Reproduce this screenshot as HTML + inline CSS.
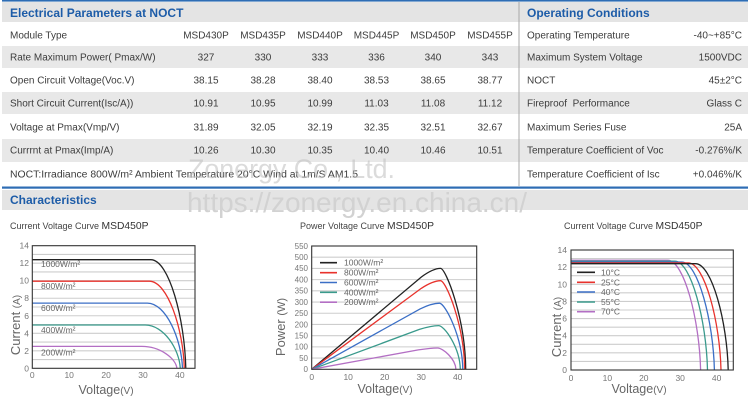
<!DOCTYPE html>
<html><head><meta charset="utf-8">
<style>
html,body{margin:0;padding:0;background:#fff;}
svg{display:block;font-family:"Liberation Sans",Arial,sans-serif;}
.t{font-size:10px;fill:#3c3c3c;}
.c{text-anchor:middle;}
.r{text-anchor:end;}
.h{font-size:12px;font-weight:bold;fill:#1d5ca8;}
.tk{font-size:8.5px;fill:#777;}
.tk2{font-size:8px;fill:#777;}
.lg{font-size:8.5px;fill:#666;}
.g{stroke:#cdcdcd;stroke-width:1.1;}
.cv{fill:none;stroke-width:1.3;}
</style></head><body>
<svg width="750" height="414" viewBox="0 0 750 414" xmlns="http://www.w3.org/2000/svg">
<!-- top table -->
<rect x="2" y="0" width="746" height="1.6" fill="#2e6db4"/>
<rect x="2" y="2" width="746" height="20" fill="#e4e4e4"/>
<rect x="2" y="46" width="746" height="22" fill="#e8e8e8"/>
<rect x="2" y="92" width="746" height="22" fill="#e8e8e8"/>
<rect x="2" y="139" width="746" height="23" fill="#e8e8e8"/>
<rect x="2" y="186.5" width="746" height="2.2" fill="#2e6db4"/>
<line x1="519" y1="2" x2="519" y2="186" stroke="#a8a8a8" stroke-width="1"/>

<text x="10" y="17" class="h">Electrical Parameters at NOCT</text>
<text x="527" y="17" class="h">Operating Conditions</text>

<g class="t">
<text x="10" y="38.5">Module Type</text>
<text x="10" y="60.5">Rate Maximum Power( Pmax/W)</text>
<text x="10" y="83.5">Open Circuit Voltage(Voc.V)</text>
<text x="10" y="106.5">Short Circuit Current(Isc/A))</text>
<text x="10" y="130.5">Voltage at Pmax(Vmp/V)</text>
<text x="10" y="153.5">Currrnt at Pmax(Imp/A)</text>
<text x="10" y="177.5" textLength="348" lengthAdjust="spacingAndGlyphs">NOCT:Irradiance 800W/m² Ambient Temperature 20°C Wind at 1m/S AM1.5</text>
</g>
<g class="t c">
<text x="206" y="38.5">MSD430P</text><text x="263" y="38.5">MSD435P</text><text x="320" y="38.5">MSD440P</text><text x="376.5" y="38.5">MSD445P</text><text x="433" y="38.5">MSD450P</text><text x="490" y="38.5">MSD455P</text>
<text x="206" y="60.5">327</text><text x="263" y="60.5">330</text><text x="320" y="60.5">333</text><text x="376.5" y="60.5">336</text><text x="433" y="60.5">340</text><text x="490" y="60.5">343</text>
<text x="206" y="83.5">38.15</text><text x="263" y="83.5">38.28</text><text x="320" y="83.5">38.40</text><text x="376.5" y="83.5">38.53</text><text x="433" y="83.5">38.65</text><text x="490" y="83.5">38.77</text>
<text x="206" y="106.5">10.91</text><text x="263" y="106.5">10.95</text><text x="320" y="106.5">10.99</text><text x="376.5" y="106.5">11.03</text><text x="433" y="106.5">11.08</text><text x="490" y="106.5">11.12</text>
<text x="206" y="130.5">31.89</text><text x="263" y="130.5">32.05</text><text x="320" y="130.5">32.19</text><text x="376.5" y="130.5">32.35</text><text x="433" y="130.5">32.51</text><text x="490" y="130.5">32.67</text>
<text x="206" y="153.5">10.26</text><text x="263" y="153.5">10.30</text><text x="320" y="153.5">10.35</text><text x="376.5" y="153.5">10.40</text><text x="433" y="153.5">10.46</text><text x="490" y="153.5">10.51</text>
</g>
<g class="t">
<text x="527" y="38.5">Operating Temperature</text>
<text x="527" y="60.5">Maximum System Voltage</text>
<text x="527" y="83.5">NOCT</text>
<text x="527" y="106.5">Fireproof &#160;Performance</text>
<text x="527" y="130.5">Maximum Series Fuse</text>
<text x="527" y="153.5">Temperature Coefficient of Voc</text>
<text x="527" y="177.5">Temperature Coefficient of Isc</text>
</g>
<g class="t r">
<text x="742" y="38.5">-40~+85°C</text>
<text x="742" y="60.5">1500VDC</text>
<text x="742" y="83.5">45±2°C</text>
<text x="742" y="106.5">Glass C</text>
<text x="742" y="130.5">25A</text>
<text x="742" y="153.5">-0.276%/K</text>
<text x="742" y="177.5">+0.046%/K</text>
</g>

<!-- watermark 1 -->
<text x="188" y="178" font-size="27" fill="#bdbdbd" fill-opacity="0.55" textLength="207" lengthAdjust="spacingAndGlyphs">Zonergy Co., Ltd.</text>

<!-- characteristics band -->
<rect x="2" y="190" width="746" height="20" fill="#e4e4e4"/>
<text x="10" y="204" class="h">Characteristics</text>
<text x="187" y="212" font-size="27.5" fill="#d2d2d2" textLength="340" lengthAdjust="spacingAndGlyphs">https://zonergy.en.china.cn/</text>

<!-- subtitles -->
<text x="10" y="229" font-size="9" fill="#444">Current Voltage Curve <tspan font-size="10.3" fill="#333">MSD450P</tspan></text>
<text x="300" y="229" font-size="9" fill="#444">Power Voltage Curve <tspan font-size="10.3" fill="#333">MSD450P</tspan></text>
<text x="564" y="229" font-size="9" fill="#444">Current Voltage Curve <tspan font-size="10.3" fill="#333">MSD450P</tspan></text>

<!-- ============ CHART 1 ============ -->
<g class="g">
<line x1="32.3" x2="195" y1="359.54" y2="359.54"/><line x1="32.3" x2="195" y1="350.79" y2="350.79"/>
<line x1="32.3" x2="195" y1="342.03" y2="342.03"/><line x1="32.3" x2="195" y1="333.27" y2="333.27"/>
<line x1="32.3" x2="195" y1="324.52" y2="324.52"/><line x1="32.3" x2="195" y1="315.76" y2="315.76"/>
<line x1="32.3" x2="195" y1="307.0" y2="307.0"/><line x1="32.3" x2="195" y1="298.24" y2="298.24"/>
<line x1="32.3" x2="195" y1="289.49" y2="289.49"/><line x1="32.3" x2="195" y1="280.73" y2="280.73"/>
<line x1="32.3" x2="195" y1="271.97" y2="271.97"/><line x1="32.3" x2="195" y1="263.22" y2="263.22"/>
<line x1="32.3" x2="195" y1="254.46" y2="254.46"/>
</g>
<g class="lg">
<text x="41" y="267">1000W/m²</text>
<text x="41" y="289">800W/m²</text>
<text x="41" y="311">600W/m²</text>
<text x="41" y="333">400W/m²</text>
<text x="41" y="355.5">200W/m²</text>
</g>
<path class="cv" stroke="#222" d="M32.3,259.7 L150.75,259.7 C169.2,259.7 184.7,319.4 185.8,368.3"/>
<path class="cv" stroke="#e8322c" d="M32.3,281.2 L149.3,281.2 C167.7,281.2 183.2,329.1 184.3,368.3"/>
<path class="cv" stroke="#3b6fc6" d="M32.3,303.1 L147.4,303.1 C165.9,303.1 181.4,338.9 182.5,368.3"/>
<path class="cv" stroke="#3a9a8c" d="M32.3,325 L145.2,325 C163.7,325 179.2,348.8 180.3,368.3"/>
<path class="cv" stroke="#b36fc4" d="M32.3,346.4 L141.9,346.4 C160.3,346.4 175.8,358.5 176.9,368.3"/>
<rect x="32.3" y="245.7" width="162.7" height="122.6" fill="none" stroke="#333" stroke-width="1.1"/>
<g class="tk r">
<text x="29" y="371.3">0</text><text x="29" y="353.8">2</text><text x="29" y="336.3">4</text><text x="29" y="318.8">6</text>
<text x="29" y="301.2">8</text><text x="29" y="283.7">10</text><text x="29" y="266.2">12</text><text x="29" y="248.7">14</text>
</g>
<g class="tk c">
<text x="32.3" y="378">0</text><text x="69.2" y="378">10</text><text x="106.1" y="378">20</text><text x="143" y="378">30</text><text x="179.9" y="378">40</text>
</g>
<text transform="translate(20,325) rotate(-90)" text-anchor="middle" font-size="13" fill="#666">Current <tspan font-size="10">(A)</tspan></text>
<text x="106" y="394" text-anchor="middle" font-size="12.5" fill="#666">Voltage<tspan font-size="10">(V)</tspan></text>

<!-- ============ CHART 2 ============ -->
<g class="g">
<line x1="311.7" x2="476.7" y1="358.09" y2="358.09"/><line x1="311.7" x2="476.7" y1="346.88" y2="346.88"/>
<line x1="311.7" x2="476.7" y1="335.67" y2="335.67"/><line x1="311.7" x2="476.7" y1="324.46" y2="324.46"/>
<line x1="311.7" x2="476.7" y1="313.25" y2="313.25"/><line x1="311.7" x2="476.7" y1="302.04" y2="302.04"/>
<line x1="311.7" x2="476.7" y1="290.83" y2="290.83"/><line x1="311.7" x2="476.7" y1="279.62" y2="279.62"/>
<line x1="311.7" x2="476.7" y1="268.41" y2="268.41"/><line x1="311.7" x2="476.7" y1="257.2" y2="257.2"/>
</g>
<g stroke-width="1.6">
<line x1="320" x2="337" y1="262.7" y2="262.7" stroke="#222"/>
<line x1="320" x2="337" y1="272.7" y2="272.7" stroke="#e8322c"/>
<line x1="320" x2="337" y1="282.5" y2="282.5" stroke="#3b6fc6"/>
<line x1="320" x2="337" y1="292.3" y2="292.3" stroke="#3a9a8c"/>
<line x1="320" x2="337" y1="302.2" y2="302.2" stroke="#b36fc4"/>
</g>
<g class="lg">
<text x="344" y="265.7">1000W/m²</text>
<text x="344" y="275.7">800W/m²</text>
<text x="344" y="285.5">600W/m²</text>
<text x="344" y="295.3">400W/m²</text>
<text x="344" y="305.2">200W/m²</text>
</g>
<path class="cv" stroke="#222" d="M311.7,369.3 L421.2,277.1 C430.3,270.4 436.5,268.4 440.5,268.4 C446,268.4 465.4,318.9 465.7,369.3"/>
<path class="cv" stroke="#e8322c" d="M311.7,369.3 L421.2,288.4 C430.3,282.5 436.5,280.7 440.5,280.7 C446,280.7 464.3,325 464.6,369.3"/>
<path class="cv" stroke="#3b6fc6" d="M311.7,369.3 L420.1,308.9 C429.2,304.5 435.4,303.2 439.5,303.2 C444.9,303.2 462.4,336.2 462.8,369.3"/>
<path class="cv" stroke="#3a9a8c" d="M311.7,369.3 L419.4,329.4 C428.5,326.5 434.7,325.6 438.7,325.6 C444.2,325.6 459.9,347.4 460.3,369.3"/>
<path class="cv" stroke="#b36fc4" d="M311.7,369.3 L418.3,349.9 C427.4,348.5 433.6,348 437.6,348 C442.7,348 455.5,358.6 455.9,369.3"/>
<rect x="311.7" y="246" width="165" height="123.3" fill="none" stroke="#333" stroke-width="1.1"/>
<g class="tk2 r">
<text x="308" y="372.1">0</text><text x="308" y="360.9">50</text><text x="308" y="349.7">100</text><text x="308" y="338.5">150</text>
<text x="308" y="327.3">200</text><text x="308" y="316.1">250</text><text x="308" y="304.9">300</text><text x="308" y="293.6">350</text>
<text x="308" y="282.4">400</text><text x="308" y="271.2">450</text><text x="308" y="260">500</text><text x="308" y="248.8">550</text>
</g>
<g class="tk c">
<text x="311.7" y="380">0</text><text x="348.2" y="380">10</text><text x="384.7" y="380">20</text><text x="421.2" y="380">30</text><text x="457.7" y="380">40</text>
</g>
<text transform="translate(285,327) rotate(-90)" text-anchor="middle" font-size="13" fill="#666">Power <tspan font-size="11">(W)</tspan></text>
<text x="385" y="393" text-anchor="middle" font-size="12.5" fill="#666">Voltage<tspan font-size="10">(V)</tspan></text>

<!-- ============ CHART 3 ============ -->
<g class="g">
<line x1="571" x2="733.3" y1="361.43" y2="361.43"/><line x1="571" x2="733.3" y1="352.86" y2="352.86"/>
<line x1="571" x2="733.3" y1="344.29" y2="344.29"/><line x1="571" x2="733.3" y1="335.72" y2="335.72"/>
<line x1="571" x2="733.3" y1="327.15" y2="327.15"/><line x1="571" x2="733.3" y1="318.57" y2="318.57"/>
<line x1="571" x2="733.3" y1="310" y2="310"/><line x1="571" x2="733.3" y1="301.43" y2="301.43"/>
<line x1="571" x2="733.3" y1="292.86" y2="292.86"/><line x1="571" x2="733.3" y1="284.29" y2="284.29"/>
<line x1="571" x2="733.3" y1="275.72" y2="275.72"/><line x1="571" x2="733.3" y1="267.15" y2="267.15"/>
<line x1="571" x2="733.3" y1="258.58" y2="258.58"/>
</g>
<g stroke-width="1.6">
<line x1="577" x2="595" y1="272.3" y2="272.3" stroke="#222"/>
<line x1="577" x2="595" y1="282.3" y2="282.3" stroke="#e8322c"/>
<line x1="577" x2="595" y1="292" y2="292" stroke="#3b6fc6"/>
<line x1="577" x2="595" y1="302" y2="302" stroke="#3a9a8c"/>
<line x1="577" x2="595" y1="311.7" y2="311.7" stroke="#b36fc4"/>
</g>
<g class="lg">
<text x="601" y="275.3">10°C</text>
<text x="601" y="285.3">25°C</text>
<text x="601" y="295">40°C</text>
<text x="601" y="305">55°C</text>
<text x="601" y="314.7">70°C</text>
</g>
<path class="cv" stroke="#b36fc4" d="M571,260.3 L667.8,260.3 C684.2,260.3 699.5,320.6 700.6,370"/>
<path class="cv" stroke="#3a9a8c" d="M571,261.1 L674.7,261.1 C691.1,261.1 706.4,321 707.5,370"/>
<path class="cv" stroke="#3b6fc6" d="M571,262 L681.7,262 C698,262 713.3,321.4 714.4,370"/>
<path class="cv" stroke="#e8322c" d="M571,262.9 L688.2,262.9 C704.6,262.9 719.9,321.8 721,370"/>
<path class="cv" stroke="#222" d="M571,263.7 L695.5,263.7 C711.9,263.7 727.2,322.2 728.2,370"/>
<rect x="571" y="250" width="162.3" height="120" fill="none" stroke="#333" stroke-width="1.1"/>
<g class="tk r">
<text x="567" y="373">0</text><text x="567" y="355.9">2</text><text x="567" y="338.7">4</text><text x="567" y="321.6">6</text>
<text x="567" y="304.4">8</text><text x="567" y="287.3">10</text><text x="567" y="270.2">12</text><text x="567" y="253">14</text>
</g>
<g class="tk c">
<text x="571" y="381">0</text><text x="607.4" y="381">10</text><text x="643.8" y="381">20</text><text x="680.2" y="381">30</text><text x="716.6" y="381">40</text>
</g>
<text transform="translate(561,327) rotate(-90)" text-anchor="middle" font-size="13" fill="#666">Current <tspan font-size="10">(A)</tspan></text>
<text x="639" y="393" text-anchor="middle" font-size="12.5" fill="#666">Voltage<tspan font-size="10">(V)</tspan></text>
</svg>
</body></html>
